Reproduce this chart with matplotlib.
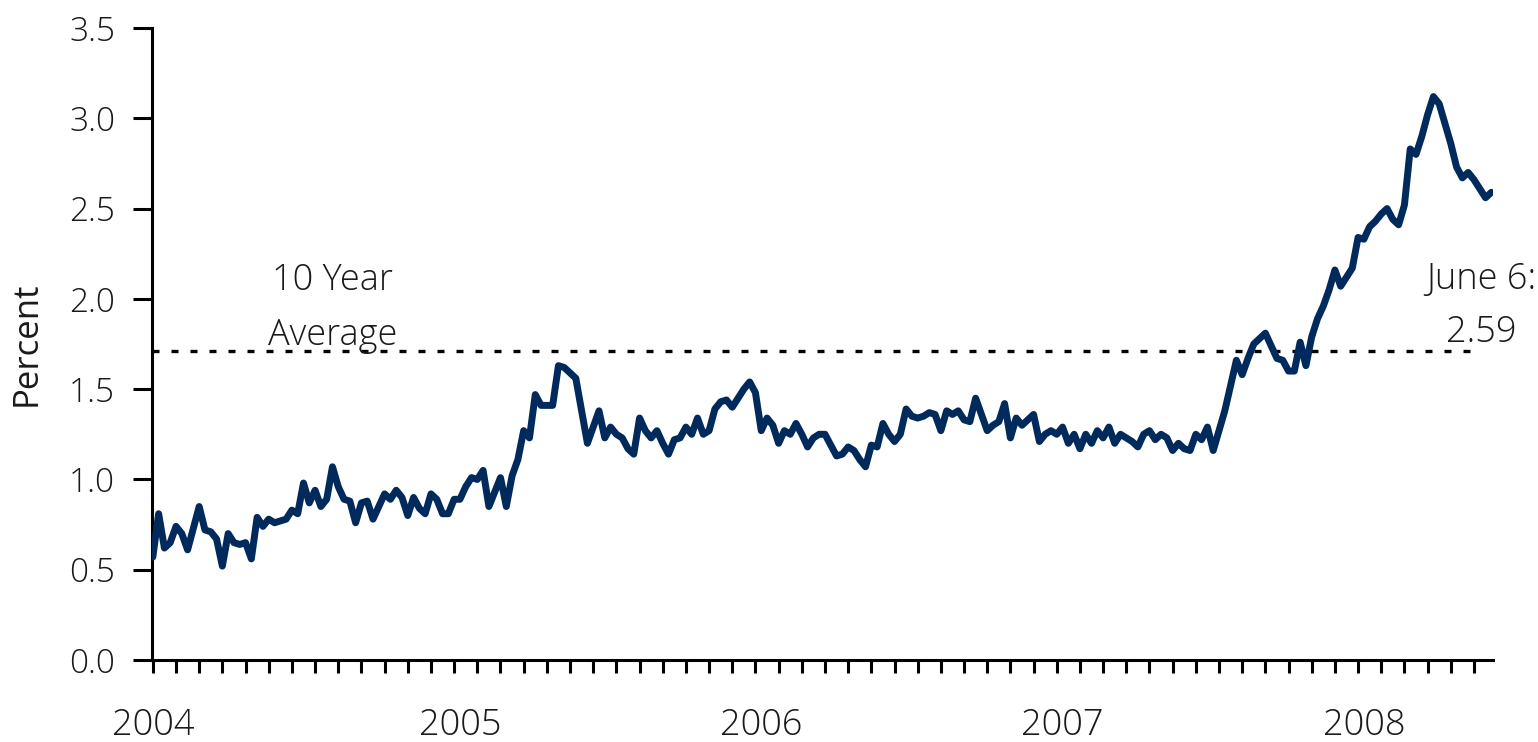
import numpy as np
import pandas as pd
import matplotlib
matplotlib.use("Agg")
import matplotlib.pyplot as plt

# weekly readings (Fridays), one list per year
rate_2004 = [0.57, 0.81, 0.62, 0.65, 0.74, 0.70, 0.61, 0.73, 0.85, 0.72,
             0.71, 0.67, 0.52, 0.70, 0.65, 0.64, 0.65, 0.56, 0.79, 0.74,
             0.78, 0.76, 0.77, 0.78, 0.83, 0.81, 0.98, 0.87, 0.94, 0.85,
             0.89, 1.07, 0.96, 0.89, 0.88, 0.76, 0.87, 0.88, 0.78, 0.85,
             0.92, 0.89, 0.94, 0.90, 0.80, 0.90, 0.84, 0.81, 0.92, 0.89,
             0.81, 0.81, 0.89]
rate_2005 = [0.89, 0.96, 1.01, 1.00, 1.05, 0.85, 0.93, 1.01, 0.85, 1.02,
             1.11, 1.27, 1.23, 1.47, 1.41, 1.41, 1.41, 1.63, 1.62, 1.59,
             1.56, 1.38, 1.20, 1.29, 1.38, 1.23, 1.29, 1.25, 1.23, 1.17,
             1.14, 1.34, 1.27, 1.23, 1.27, 1.20, 1.14, 1.22, 1.23, 1.29,
             1.25, 1.34, 1.25, 1.27, 1.39, 1.43, 1.44, 1.40, 1.45, 1.50,
             1.54, 1.48]
rate_2006 = [1.27, 1.34, 1.30, 1.20, 1.27, 1.25, 1.31, 1.25, 1.18, 1.23,
             1.25, 1.25, 1.19, 1.13, 1.14, 1.18, 1.16, 1.11, 1.07, 1.19,
             1.18, 1.31, 1.25, 1.21, 1.25, 1.39, 1.35, 1.34, 1.35, 1.37,
             1.36, 1.27, 1.38, 1.36, 1.38, 1.33, 1.32, 1.45, 1.36, 1.27,
             1.30, 1.32, 1.42, 1.23, 1.34, 1.30, 1.33, 1.36, 1.21, 1.25,
             1.27, 1.25]
rate_2007 = [1.29, 1.20, 1.25, 1.17, 1.25, 1.20, 1.27, 1.23, 1.29, 1.20,
             1.25, 1.23, 1.21, 1.18, 1.25, 1.27, 1.22, 1.25, 1.23, 1.16,
             1.20, 1.17, 1.16, 1.25, 1.22, 1.29, 1.16, 1.27, 1.38, 1.52,
             1.66, 1.58, 1.67, 1.75, 1.78, 1.81, 1.74, 1.67, 1.66, 1.60,
             1.60, 1.76, 1.63, 1.79, 1.89, 1.96, 2.05, 2.16, 2.07, 2.12,
             2.17, 2.34]
rate_2008 = [2.33, 2.40, 2.43, 2.47, 2.50, 2.44, 2.41, 2.52, 2.83, 2.80,
             2.90, 3.02, 3.12, 3.08, 2.97, 2.86, 2.73, 2.67, 2.70, 2.66,
             2.61, 2.56, 2.59]

ten_year_avg = 1.71
years = [2004, 2005, 2006, 2007, 2008]
y_ticks = [0.0, 0.5, 1.0, 1.5, 2.0, 2.5, 3.0, 3.5]

values = rate_2004 + rate_2005 + rate_2006 + rate_2007 + rate_2008
dates = pd.date_range("2004-01-02", periods=len(values), freq="W-FRI")
year_starts = [dates[dates.year == y][0] for y in years]

plt.rcParams["font.family"] = ["Open Sans", "DejaVu Sans"]
plt.rcParams["font.weight"] = "light"
txt_color = "#1a1a1a"

fig = plt.figure(figsize=(15.38, 7.42), dpi=100)
ax = fig.add_axes([152 / 1538, 82 / 742, (1493 - 152) / 1538, 632 / 742])

ax.plot(dates, values, color="#002a5c", lw=5, solid_joinstyle="round",
        solid_capstyle="round", zorder=3)

# 10 year average, dotted, runs to the last tick
tick_dates = dates[::4]
ax.hlines(ten_year_avg, dates[0] - pd.Timedelta(days=1), tick_dates[-1],
          colors="black", lw=2.4, linestyles=(0, (2.1, 3.6)), zorder=2)

ax.set_xlim(dates[0] - pd.Timedelta(days=1), dates[-1] + pd.Timedelta(days=2))
ax.set_ylim(0, 3.5)

ax.set_yticks(y_ticks)
ax.set_yticklabels([f"{v:.1f}" for v in y_ticks])
ax.set_xticks(year_starts)
ax.set_xticklabels([str(y) for y in years])
ax.set_xticks(tick_dates, minor=True)
ax.xaxis.remove_overlapping_locs = False

ax.tick_params(axis="y", which="major", direction="out", length=13.5, width=2.2,
               pad=13, labelsize=24, colors="black", labelcolor=txt_color)
ax.tick_params(axis="x", which="major", length=0, pad=34, labelsize=26,
               labelcolor=txt_color)
ax.tick_params(axis="x", which="minor", direction="out", length=9.5, width=2.2,
               colors="black")

for side in ["top", "right"]:
    ax.spines[side].set_visible(False)
for side in ["left", "bottom"]:
    ax.spines[side].set_linewidth(2.2)
    ax.spines[side].set_color("black")

ax.set_ylabel("Percent", fontsize=25, color=txt_color)
ax.yaxis.set_label_coords(-0.081, 0.5)

ax.text(dates[31], 2.05, "10 Year", ha="center", va="baseline", fontsize=26,
        color=txt_color)
ax.text(dates[31], 1.745, "Average", ha="center", va="baseline", fontsize=26,
        color=txt_color)

lab_x = dates[-1] - pd.Timedelta(days=12)
ax.text(lab_x, 2.055, "June 6:", ha="center", va="baseline", fontsize=26,
        color=txt_color)
ax.text(lab_x, 1.76, f"{values[-1]:.2f}", ha="center", va="baseline", fontsize=26,
        color=txt_color)

fig.savefig("out.png", dpi=100)
